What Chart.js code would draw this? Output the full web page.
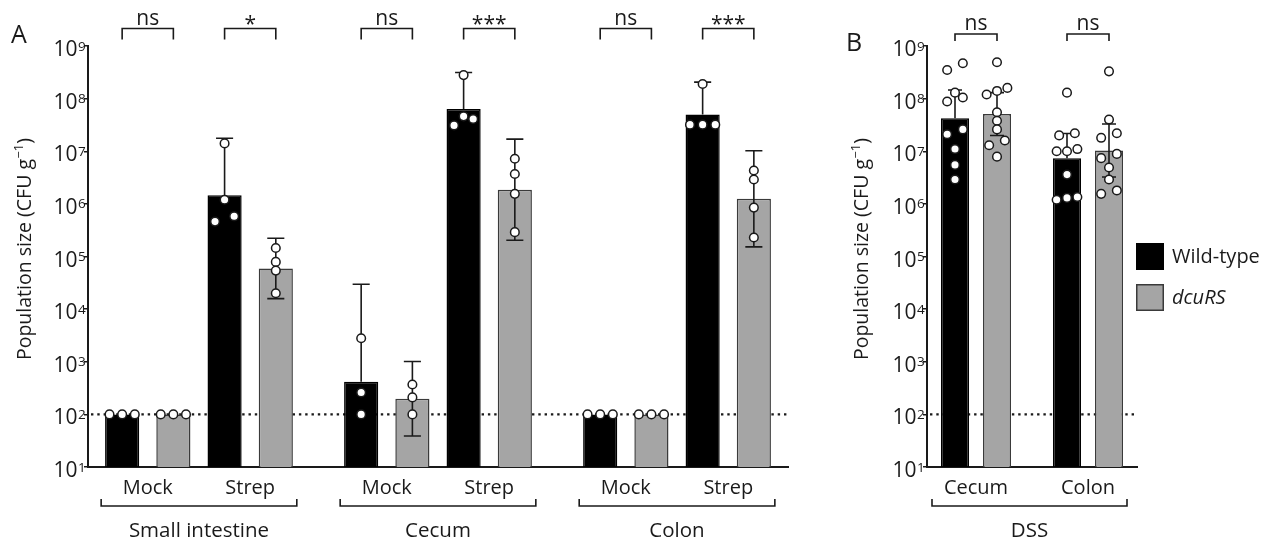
<!DOCTYPE html>
<html>
<head>
<meta charset="utf-8">
<title>Population size</title>
<script src="https://cdn.jsdelivr.net/npm/chart.js@4.4.1/dist/chart.umd.min.js"></script>
<style>
    html, body { margin: 0; background: #fff; }
    #figure { position: relative; width: 1263px; height: 537px; overflow: hidden; }
    canvas { position: absolute; top: 0; }
    #panelA { left: 0; }
    #panelB { left: 800px; }
</style>
</head>
<body>
<div id="figure">
    <canvas id="panelA" width="800" height="537"></canvas>
    <canvas id="panelB" width="463" height="537"></canvas>
</div>
<script>
// Valores (CFU g^-1, un número por ratón)
const tickExponents = [1, 2, 3, 4, 5, 6, 7, 8, 9];
const detectionLimit = 100;
const strains = ['Wild-type', 'dcuRS'];

// Panel A
const treatmentsA = ['Mock', 'Strep', 'Mock', 'Strep', 'Mock', 'Strep'];
const tissuesA = ['Small intestine', 'Cecum', 'Colon'];
const wildTypeA = [
    [100, 100, 100],
    [1.41e7, 1.2e6, 4.6e5, 5.8e5],
    [2.8e3, 260, 100],
    [2.8e8, 4.6e7, 3.1e7, 4.1e7],
    [100, 100, 100],
    [1.9e8, 3.2e7, 3.2e7, 3.2e7]
];
const dcuRSA = [
    [100, 100, 100],
    [1.45e5, 7.9e4, 5.4e4, 2.0e4],
    [370, 210, 100],
    [7.2e6, 3.7e6, 1.55e6, 2.9e5],
    [100, 100, 100],
    [4.3e6, 2.9e6, 8.5e5, 2.3e5]
];
const significanceA = ['ns', '*', 'ns', '***', 'ns', '***'];

// Panel B
const sitesB = ['Cecum', 'Colon'];
const treatmentB = 'DSS';
const wildTypeB = [
    [3.5e8, 4.7e8, 1.05e8, 1.3e8, 8.8e7, 2.6e7, 2.1e7, 1.1e7, 5.5e6, 2.9e6],
    [1.3e8, 2.2e7, 2.0e7, 1.0e7, 1.1e7, 1.0e7, 3.6e6, 1.2e6, 1.35e6, 1.3e6]
];
const dcuRSB = [
    [4.9e8, 1.4e8, 1.6e8, 1.2e8, 5.5e7, 3.8e7, 2.6e7, 1.6e7, 1.3e7, 7.9e6],
    [3.3e8, 4.0e7, 1.8e7, 2.2e7, 7.4e6, 8.9e6, 4.9e6, 2.9e6, 1.55e6, 1.8e6]
];
const significanceB = ['ns', 'ns'];

const INK = '#1a1a1a';
const GREY = '#a5a5a5';
const FONT = '"Open Sans", "DejaVu Sans", sans-serif';
const tCrit = { 2: 4.303, 3: 3.182, 4: 2.776, 9: 2.262 }; // t de Student 95 %, por grados de libertad

// Media geométrica con IC 95 %
function geoStats(values) {
    const logs = values.map(v => Math.log10(v));
    const n = logs.length;
    const mean = logs.reduce((a, b) => a + b, 0) / n;
    const sd = Math.sqrt(logs.reduce((a, b) => a + (b - mean) ** 2, 0) / (n - 1));
    const half = tCrit[n - 1] * sd / Math.sqrt(n);
    return { mean: 10 ** mean, lo: 10 ** (mean - half), hi: 10 ** (mean + half) };
}

function font(size, italic) {
    return (italic ? 'italic ' : '') + size + 'px ' + FONT;
}

function text(ctx, str, x, y, size, align = 'center', italic = false) {
    ctx.font = font(size, italic);
    ctx.textAlign = align;
    ctx.textBaseline = 'alphabetic';
    ctx.fillText(str, x, y);
}

function drawAxisTitle(ctx, cx, cy) {
    const main = 'Population size (CFU g', sup = '\u22121', close = ')';
    ctx.save();
    ctx.translate(cx, cy);
    ctx.rotate(-Math.PI / 2);
    ctx.font = font(19.5);
    const w1 = ctx.measureText(main).width, w3 = ctx.measureText(close).width;
    ctx.font = font(12.5);
    const w2 = ctx.measureText(sup).width;
    const x0 = -(w1 + w2 + w3 + 1) / 2;
    text(ctx, main, x0, 0, 19.5, 'left');
    text(ctx, sup, x0 + w1 + 0.5, -8, 12.5, 'left');
    text(ctx, close, x0 + w1 + w2 + 1, 0, 19.5, 'left');
    ctx.restore();
}

function drawLegend(ctx) {
    ctx.fillStyle = '#000';
    ctx.fillRect(336, 243, 28, 27);
    ctx.fillStyle = GREY;
    ctx.fillRect(336, 284, 28, 27);
    ctx.strokeStyle = '#3a3a3a';
    ctx.lineWidth = 1.5;
    ctx.strokeRect(336.75, 284.75, 26.5, 25.5);
    ctx.fillStyle = INK;
    text(ctx, strains[0], 372, 263, 20, 'left');
    text(ctx, strains[1], 372, 304, 20, 'left', true);
}

function makeDecor(p) {
    return {
        id: 'decor',
        // Línea punteada del límite de detección, detrás de las barras
        beforeDatasetsDraw(chart) {
            const { ctx, chartArea: a, scales: { y } } = chart;
            const yy = y.getPixelForValue(detectionLimit);
            ctx.save();
            ctx.strokeStyle = INK;
            ctx.lineWidth = 2.4;
            ctx.setLineDash([2.4, 3.9]);
            ctx.beginPath();
            ctx.moveTo(a.left + 3, yy);
            ctx.lineTo(a.right, yy);
            ctx.stroke();
            ctx.restore();
        },
        // Barras de error (IC 95 %); en las barras negras solo hacia arriba
        afterDatasetDraw(chart, args) {
            const ds = chart.data.datasets[args.index];
            if (!ds.ci) return;
            const { ctx, scales: { y } } = chart;
            ctx.save();
            ctx.strokeStyle = INK;
            ctx.lineWidth = 1.6;
            args.meta.data.forEach((bar, i) => {
                const c = ds.ci[i];
                if (c.hi - c.lo < 1e-9 * c.hi) return;
                const top = y.getPixelForValue(c.hi), half = bar.width / 4;
                const bot = ds.upOnly ? bar.y : y.getPixelForValue(c.lo);
                ctx.beginPath();
                ctx.moveTo(bar.x, top); ctx.lineTo(bar.x, bot);
                ctx.moveTo(bar.x - half, top); ctx.lineTo(bar.x + half, top);
                if (!ds.upOnly) { ctx.moveTo(bar.x - half, bot); ctx.lineTo(bar.x + half, bot); }
                ctx.stroke();
            });
            ctx.restore();
        },
        afterDraw(chart) {
            const { ctx, chartArea: a, scales: { x, y } } = chart;
            ctx.save();
            ctx.fillStyle = INK;
            ctx.strokeStyle = INK;
            ctx.lineWidth = 1.6;
            // Etiquetas 10^n
            tickExponents.forEach(e => {
                const ty = y.getPixelForValue(10 ** e);
                text(ctx, '10', a.left - 10.5, ty + 10, 21, 'right');
                text(ctx, String(e), a.left - 10, ty + 4.5, 13.5, 'left');
            });
            drawAxisTitle(ctx, p.titleX, 249);
            // Corchetes de significancia
            p.significance.forEach((lab, g) => {
                const x1 = x.getPixelForValue(p.slot(g, 0)), x2 = x.getPixelForValue(p.slot(g, 1));
                ctx.beginPath();
                ctx.moveTo(x1, p.sigLeg); ctx.lineTo(x1, p.sigTop);
                ctx.lineTo(x2, p.sigTop); ctx.lineTo(x2, p.sigLeg);
                ctx.stroke();
                text(ctx, lab, (x1 + x2) / 2, p.sigText + (lab.includes('*') ? 6 : 0), 21);
            });
            // Grupos bajo el eje
            p.groupNames.forEach((lab, g) => {
                const xc = (x.getPixelForValue(p.slot(g, 0)) + x.getPixelForValue(p.slot(g, 1))) / 2;
                text(ctx, lab, xc, 494, 20);
            });
            p.brackets.forEach(b => {
                const x1 = x.getPixelForValue(p.slot(b.from, 0)) - p.bracketPad[0];
                const x2 = x.getPixelForValue(p.slot(b.to, 1)) + p.bracketPad[1];
                ctx.beginPath();
                ctx.moveTo(x1, 499); ctx.lineTo(x1, 506);
                ctx.lineTo(x2, 506); ctx.lineTo(x2, 499);
                ctx.stroke();
                text(ctx, b.name, (x1 + x2) / 2, 536.5, 20.5);
            });
            text(ctx, p.letter, p.letterX, p.letterY, 25, 'left');
            if (p.legend) drawLegend(ctx);
            ctx.restore();
        }
    };
}

// Reparte horizontalmente los puntos que se solapan (filas tipo GraphPad)
function spreadPoints(chart) {
    const xs = chart.scales.x, ys = chart.scales.y;
    const unit = xs.getPixelForValue(1) - xs.getPixelForValue(0);
    const barWidth = chart.getDatasetMeta(0).data[0].width;
    chart.data.datasets.filter(ds => ds.type === 'scatter').forEach(ds => {
        const bySlot = {};
        ds.data.forEach(pt => (bySlot[pt.slot] = bySlot[pt.slot] || []).push(pt));
        Object.values(bySlot).forEach(pts => {
            pts.sort((a, b) => a.y - b.y);
            let row = [];
            const place = () => {
                const gap = barWidth * (row.length > 2 ? 0.37 : 0.56);
                row.forEach((pt, i) => { pt.x = pt.slot + (i - (row.length - 1) / 2) * gap / unit; });
                row = [];
            };
            pts.forEach(pt => {
                if (row.length && ys.getPixelForValue(row[0].y) - ys.getPixelForValue(pt.y) > 8) place();
                row.push(pt);
            });
            place();
        });
    });
    chart.update('none');
}

function buildPanel(canvasId, p) {
    const datasets = [];
    [p.wildType, p.dcuRS].forEach((groups, s) => {
        const stats = groups.map(geoStats);
        datasets.push({
            type: 'bar',
            label: strains[s],
            data: stats.map((st, g) => ({ x: p.slot(g, s), y: st.mean })),
            ci: stats,
            upOnly: s === 0,
            backgroundColor: s ? GREY : '#000',
            borderColor: s ? '#3a3a3a' : '#000',
            borderWidth: 1.5,
            grouped: false,
            categoryPercentage: 1,
            barPercentage: 2 / 3,
            order: 2
        });
    });
    [p.wildType, p.dcuRS].forEach((groups, s) => {
        datasets.push({
            type: 'scatter',
            label: strains[s],
            data: groups.flatMap((vals, g) => vals.map(v => ({ x: p.slot(g, s), y: v, slot: p.slot(g, s) }))),
            pointRadius: 4.3,
            pointBackgroundColor: '#fff',
            pointBorderColor: INK,
            pointBorderWidth: 1.5,
            order: 1
        });
    });

    const chart = new Chart(document.getElementById(canvasId), {
        type: 'bar',
        data: { datasets },
        options: {
            responsive: false,
            animation: false,
            events: [],
            layout: { padding: { left: 0, top: 46, right: p.padRight, bottom: 70 } },
            plugins: { legend: { display: false }, tooltip: { enabled: false } },
            scales: {
                x: {
                    type: 'linear', min: p.xMin, max: p.xMax, offset: false,
                    grid: { display: false, offset: false },
                    border: { display: true, color: INK, width: 2 },
                    ticks: { display: false },
                    afterBuildTicks: sc => { sc.ticks = [{ value: sc.min }, { value: sc.max }]; },
                    afterFit: sc => { sc.height = 0; }
                },
                y: {
                    type: 'logarithmic', min: 10, max: 1e9,
                    grid: { display: true, drawOnChartArea: false, drawTicks: true, tickLength: 4, color: INK, lineWidth: 1.5 },
                    border: { display: true, color: INK, width: 2 },
                    ticks: { display: false },
                    afterBuildTicks: sc => { sc.ticks = tickExponents.map(e => ({ value: 10 ** e })); },
                    afterFit: sc => { sc.width = p.axisLeft; }
                }
            }
        },
        plugins: [makeDecor(p)]
    });
    spreadPoints(chart);
    return chart;
}

buildPanel('panelA', {
    wildType: wildTypeA, dcuRS: dcuRSA, significance: significanceA,
    groupNames: treatmentsA,
    brackets: tissuesA.map((name, t) => ({ name, from: 2 * t, to: 2 * t + 1 })),
    slot: (g, s) => Math.floor(g / 2) * 14 + (g % 2) * 6 + s * 3,
    xMin: -2, xMax: 39, axisLeft: 88, padRight: 12,
    sigTop: 28.5, sigLeg: 39.5, sigText: 25,
    bracketPad: [21, 21],
    titleX: 30.5, letter: 'A', letterX: 11, letterY: 43
});

buildPanel('panelB', {
    wildType: wildTypeB, dcuRS: dcuRSB, significance: significanceB,
    groupNames: sitesB,
    brackets: [{ name: treatmentB, from: 0, to: 1 }],
    slot: (g, s) => g * 8 + s * 3,
    xMin: -2, xMax: 13, axisLeft: 127, padRight: 126,
    sigTop: 34, sigLeg: 41, sigText: 30,
    bracketPad: [23, 18],
    titleX: 68, letter: 'B', letterX: 46, letterY: 51,
    legend: true
});
</script>
</body>
</html>
